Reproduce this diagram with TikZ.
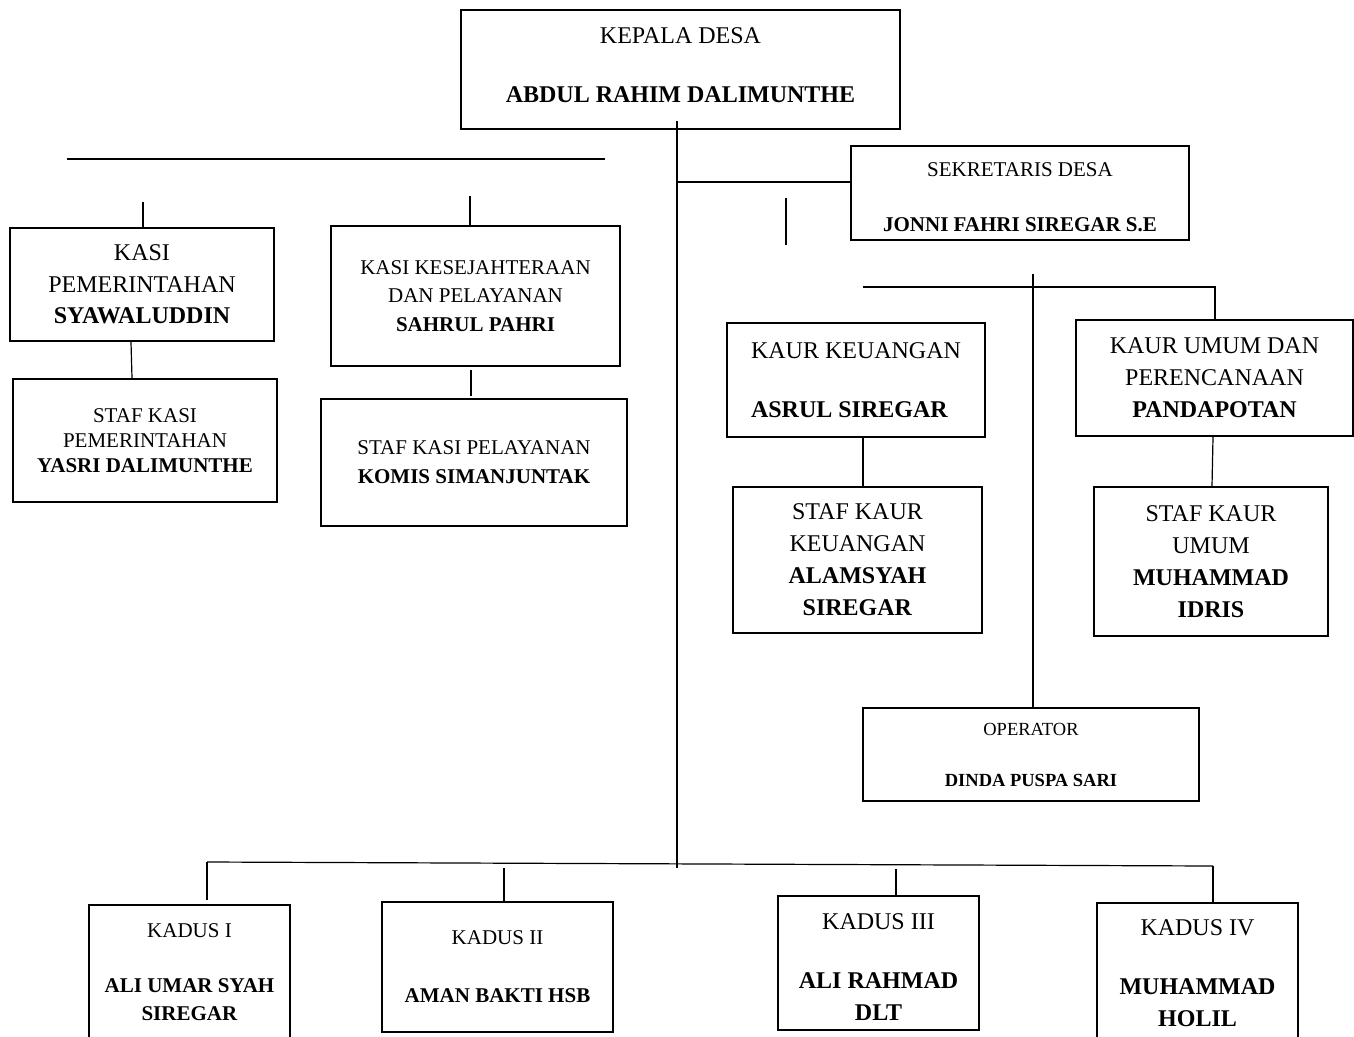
\documentclass[tikz,border=0pt]{standalone}
\usepackage{fontspec}
\setmainfont{Liberation Serif}[BoldFont={Liberation Serif Bold}]
\begin{document}
\begin{tikzpicture}[x=1pt,y=-1pt,
  box/.style={draw, line width=2.4pt, inner sep=0pt, align=center},
  conn/.style={line width=1.2pt},
  fA/.style={font=\fontsize{24}{31.5}\selectfont},
  fB/.style={font=\fontsize{21}{28}\selectfont}]
\useasboundingbox (0,0) rectangle (1354,1036);
\clip (0,0) rectangle (1354,1036);

% ---- boxes ----
\node[box, minimum width=439pt, minimum height=119pt, font=\fontsize{24}{59}\selectfont] (kepala) at (680.5,69.5)
  {KEPALA DESA\\\textbf{ABDUL RAHIM DALIMUNTHE}\rule[-8pt]{0pt}{8pt}};
\node[box, minimum width=338pt, minimum height=94pt, font=\fontsize{21}{55}\selectfont] (sek) at (1020,193)
  {\rule{0pt}{21.9pt}SEKRETARIS DESA\\\textbf{JONNI FAHRI SIREGAR S.E}};
\node[box, fA, minimum width=264pt, minimum height=113pt] (kasi1) at (142,284.5)
  {KASI\\PEMERINTAHAN\\\textbf{SYAWALUDDIN}};
\node[box, font=\fontsize{21}{25}\selectfont, minimum width=264pt, minimum height=123pt] (staf1) at (145,440.5)
  {STAF KASI\\PEMERINTAHAN\\\textbf{YASRI DALIMUNTHE}};
\node[box, font=\fontsize{21}{28.5}\selectfont, minimum width=289pt, minimum height=140pt] (kasi2) at (475.5,296)
  {KASI KESEJAHTERAAN\\DAN PELAYANAN\\\textbf{SAHRUL PAHRI}};
\node[box, font=\fontsize{21}{29}\selectfont, minimum width=306pt, minimum height=127pt] (staf2) at (474,462.5)
  {STAF KASI PELAYANAN\\\textbf{KOMIS SIMANJUNTAK}};
\node[box, align=left, font=\fontsize{24}{59}\selectfont, minimum width=258pt, minimum height=114pt] (kaur1) at (856,380)
  {KAUR KEUANGAN\\\textbf{ASRUL SIREGAR}};
\node[box, font=\fontsize{24}{32}\selectfont, minimum width=249pt, minimum height=146pt] (staf3) at (857.5,560)
  {STAF KAUR\\KEUANGAN\\\textbf{ALAMSYAH}\\\textbf{SIREGAR}};
\node[box, font=\fontsize{24}{32}\selectfont, minimum width=277pt, minimum height=116pt] (kaur2) at (1214.5,378)
  {KAUR UMUM DAN\\PERENCANAAN\\\textbf{PANDAPOTAN}};
\node[box, font=\fontsize{24}{32}\selectfont, minimum width=234pt, minimum height=149pt] (staf4) at (1211,561.5)
  {STAF KAUR\\UMUM\\\textbf{MUHAMMAD}\\\textbf{IDRIS}};
\node[box, font=\fontsize{18.5}{51}\selectfont, minimum width=336pt, minimum height=93pt] (oper) at (1031,754.5)
  {OPERATOR\\\textbf{DINDA PUSPA SARI}};
\node[box, fB, minimum width=201pt, minimum height=135pt] (kadus1) at (189.5,972.5)
  {KADUS I\\[27pt]\textbf{ALI UMAR SYAH}\\\textbf{SIREGAR}};
\node[box, font=\fontsize{21}{58}\selectfont, minimum width=231pt, minimum height=130pt] (kadus2) at (497.5,967)
  {KADUS II\\\textbf{AMAN BAKTI HSB}};
\node[box, font=\fontsize{24}{32}\selectfont, minimum width=201pt, minimum height=134pt] (kadus3) at (878.5,963)
  {\rule{0pt}{23.9pt}KADUS III\\[27pt]\textbf{ALI RAHMAD}\\\textbf{DLT}};
\node[box, font=\fontsize{24}{32}\selectfont, minimum width=201pt, minimum height=141pt] (kadus4) at (1197.5,973.5)
  {KADUS IV\\[27pt]\textbf{MUHAMMAD}\\\textbf{HOLIL}};

% ---- connector end points ----
\coordinate (trunkTop) at (677,121);
\coordinate (trunkBot) at (677,868);
\coordinate (sekJ) at (677,182);
\coordinate (leftA) at (67,159);
\coordinate (leftB) at (605,159);
\coordinate (k1top) at (143,202);
\coordinate (k2top) at (470,196);
\coordinate (midA) at (786,198);
\coordinate (midB) at (786,245);
\coordinate (k2s) at (471,370);
\coordinate (s2n) at (471,396);
\coordinate (rbusL) at (863,287);
\coordinate (rbusR) at (1215,287);
\coordinate (opTop) at (1033,274);
\coordinate (busL) at (207,862);
\coordinate (busR) at (1213,866);

% ---- connectors ----
\draw[conn] (trunkTop) -- (trunkBot);
\draw[conn] (sekJ) -- (sekJ -| sek.west);
\draw[conn] (leftA) -- (leftB);
\draw[conn] (k1top) -- (k1top |- kasi1.north);
\draw[conn] (k2top) -- (k2top |- kasi2.north);
\draw[conn] (midA) -- (midB);
\draw[conn] (kasi1.south -| 131,0) -- (staf1.north -| 132,0);
\draw[conn] (k2s) -- (s2n);
\draw[conn] (rbusL) -- (rbusR) -- (rbusR |- kaur2.north);
\draw[conn] (opTop) -- (opTop |- oper.north);
\draw[conn] (kaur1.south -| 863,0) -- (staf3.north -| 863,0);
\draw[conn] (kaur2.south -| 1213,0) -- (staf4.north -| 1212,0);
\draw[conn] (busL) -- (busR);
\draw[conn] (busL) -- (207,900);
\draw[conn] (504,868) -- (kadus2.north -| 504,0);
\draw[conn] (896,869) -- (896,897);
\draw[conn] (busR) -- (kadus4.north -| 1213,0);
\end{tikzpicture}
\end{document}
